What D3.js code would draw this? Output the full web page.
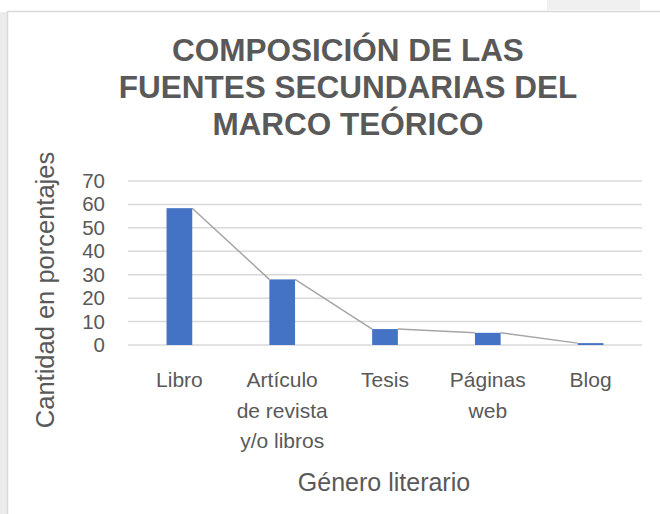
<!DOCTYPE html>
<html><head><meta charset="utf-8">
<script src="https://cdn.jsdelivr.net/npm/d3@7"></script>
<style>html,body{margin:0;padding:0;background:#fff;}svg{display:block;}</style>
</head><body>
<svg id="c" width="660" height="514"></svg>
<script>
const titleLines = ["COMPOSICIÓN DE LAS", "FUENTES SECUNDARIAS DEL", "MARCO TEÓRICO"];
const categories = ["Libro", "Artículo de revista y/o libros", "Tesis", "Páginas web", "Blog"];
const categoryLines = [["Libro"], ["Artículo", "de revista", "y/o libros"], ["Tesis"], ["Páginas", "web"], ["Blog"]];
const values = [58.4, 28, 6.8, 5.2, 0.8];
const yTicks = [0, 10, 20, 30, 40, 50, 60, 70];
const yTitle = "Cantidad en porcentajes";
const xTitle = "Género literario";

const svg = d3.select("#c");
const txt = "#595959";
const font = "'Liberation Sans', Arial, sans-serif";

// page background artifacts
svg.append("rect").attr("x", 0).attr("y", 12).attr("width", 7).attr("height", 502).attr("fill", "#ececec");
svg.append("rect").attr("x", 547).attr("y", 0).attr("width", 93).attr("height", 10).attr("fill", "#f0f0f0");
// chart area border
svg.append("rect").attr("x", 7.5).attr("y", 11.5).attr("width", 700).attr("height", 600)
  .attr("fill", "#fff").attr("stroke", "#d9d9d9").attr("stroke-width", 1.5);

// title
const titleY = [61, 98, 135];
svg.append("g").selectAll("text").data(titleLines).join("text")
  .attr("x", 348).attr("y", (d, i) => titleY[i])
  .attr("text-anchor", "middle").attr("font-family", font).attr("font-weight", "bold")
  .attr("font-size", 31.5).attr("fill", txt).text(d => d);

const x = d3.scaleBand().domain(categories).range([128, 642]);
const y = d3.scaleLinear().domain([0, 70]).range([345, 181]);
const bw = x.bandwidth() * 0.25;

// gridlines
svg.append("g").selectAll("line").data(yTicks).join("line")
  .attr("x1", 128).attr("x2", 642).attr("y1", d => y(d)).attr("y2", d => y(d))
  .attr("stroke", "#d9d9d9").attr("stroke-width", 1.5);

// y axis labels
const yAxis = svg.append("g").attr("transform", "translate(105,0)")
  .call(d3.axisLeft(y).tickValues(yTicks).tickSize(0).tickPadding(0));
yAxis.select(".domain").remove();
yAxis.selectAll("text").attr("font-family", font).attr("font-size", 20.5).attr("fill", txt);

// series lines (connect bar tops)
const segs = values.slice(0, -1).map((v, i) => [categories[i], v, categories[i + 1], values[i + 1]]);
svg.append("g").selectAll("line").data(segs).join("line")
  .attr("x1", d => x(d[0]) + x.bandwidth() / 2 + bw / 2).attr("y1", d => y(d[1]))
  .attr("x2", d => x(d[2]) + x.bandwidth() / 2 - bw / 2).attr("y2", d => y(d[3]))
  .attr("stroke", "#a5a5a5").attr("stroke-width", 1.5);

// bars
svg.append("g").selectAll("rect").data(values).join("rect")
  .attr("x", (d, i) => x(categories[i]) + x.bandwidth() / 2 - bw / 2)
  .attr("y", d => y(d)).attr("width", bw).attr("height", d => y(0) - y(d))
  .attr("fill", "#4472c4");

// category labels
const lab = svg.append("g");
categoryLines.forEach((lines, i) => {
  lines.forEach((l, j) => {
    lab.append("text").attr("x", x(categories[i]) + x.bandwidth() / 2).attr("y", 387 + j * 30.5)
      .attr("text-anchor", "middle").attr("font-family", font).attr("font-size", 21)
      .attr("fill", txt).text(l);
  });
});

// axis titles
svg.append("text").attr("x", 384).attr("y", 491).attr("text-anchor", "middle")
  .attr("font-family", font).attr("font-size", 25).attr("fill", txt).text(xTitle);
svg.append("text").attr("transform", "translate(54,290) rotate(-90)").attr("text-anchor", "middle")
  .attr("font-family", font).attr("font-size", 25.5).attr("fill", txt).text(yTitle);
</script>
</body></html>
